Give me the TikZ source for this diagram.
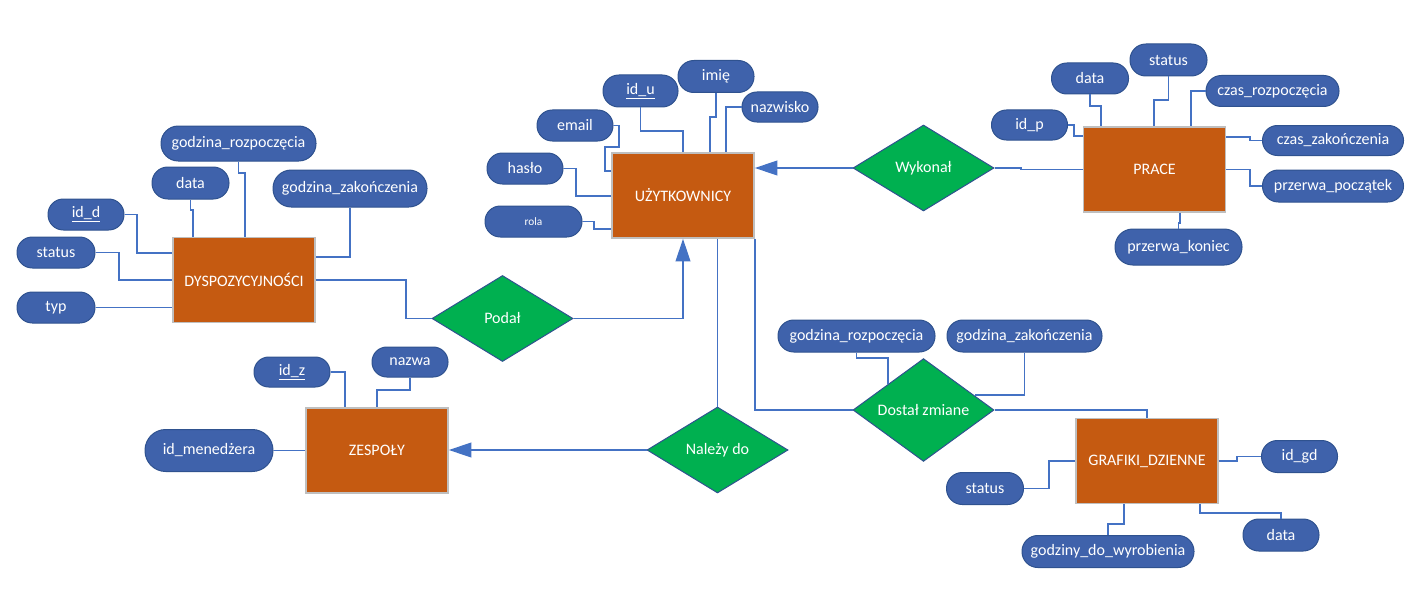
\documentclass[tikz,border=0pt]{standalone}
\usepackage{fontspec}
\setmainfont{Carlito}
\usetikzlibrary{shapes.geometric,arrows.meta}
\definecolor{encjakolor}{HTML}{C55A11}
\definecolor{ramka}{HTML}{BFBFBF}
\definecolor{atrkolor}{HTML}{3F62AB}
\definecolor{atrramka}{HTML}{2F528F}
\definecolor{relkolor}{HTML}{00B050}
\definecolor{liniakolor}{HTML}{4472C4}
\begin{document}
\begin{tikzpicture}[x=0.75pt,y=-0.75pt,
    every node/.style={text=white,font=\fontsize{12}{14}\selectfont},
    wh/.style 2 args={minimum width=#1*0.75pt,minimum height=#2*0.75pt,rounded corners=#2*0.37pt},
    encja/.style={draw=ramka,fill=encjakolor,line width=1.1pt,minimum width=106.5pt,minimum height=63.75pt},
    atrybut/.style={draw=atrramka,fill=atrkolor,line width=0.75pt,inner sep=1pt},
    relacja/.style={diamond,draw=atrramka,fill=relkolor,line width=0.75pt,inner sep=0pt,minimum width=105.75pt,minimum height=64.5pt},
    lacznik/.style={draw=liniakolor,line width=1.4pt},
    strzalka/.style={lacznik,-{Triangle[length=17pt,width=11pt]}}]
    \useasboundingbox (0,0) rectangle (1421,592);
    \node[encja] (dysp) at (244,280) {DYSPOZYCYJNOŚCI};
    \node[encja] (uzyt) at (683,195.5) {UŻYTKOWNICY};
    \node[encja] (prace) at (1154.5,169.5) {PRACE};
    \node[encja] (zesp) at (377,450.5) {ZESPOŁY};
    \node[encja] (graf) at (1147,461) {GRAFIKI\_DZIENNE};
    \node[relacja] (podal) at (502.5,318.5) {Podał};
    \node[relacja] (wyk) at (923.5,168) {Wykonał};
    \node[relacja] (nal) at (717.5,450) {Należy do};
    \node[relacja] (dost) at (923.5,410) {Dostał zmiane};
    \node[atrybut,wh={155}{35}] (dgr) at (238.5,143.5) {godzina\_rozpoczęcia};
    \node[atrybut,wh={77}{32}] (ddata) at (190.5,183) {data};
    \node[atrybut,wh={154}{37}] (dgz) at (350,188.5) {godzina\_zakończenia};
    \node[atrybut,wh={76}{31}] (did) at (86,214.5) {\underline{id\_d}};
    \node[atrybut,wh={78}{31}] (dstatus) at (56,252.5) {status};
    \node[atrybut,wh={78}{31}] (dtyp) at (56,307.5) {typ};
    \node[atrybut,wh={75}{32}] (uid) at (640.5,91) {\underline{id\_u}};
    \node[atrybut,wh={76}{32}] (uimie) at (716,76.5) {imię};
    \node[atrybut,wh={76}{30}] (unazw) at (780,107) {nazwisko};
    \node[atrybut,wh={76}{31}] (uemail) at (575,125.5) {email};
    \node[atrybut,wh={76}{31}] (uhaslo) at (525,168.5) {hasło};
    \node[atrybut,wh={97}{31},font=\fontsize{8.5}{10}\selectfont] (urola) at (533.5,221.5) {rola};
    \node[atrybut,wh={76}{30}] (pid) at (1029.5,125) {id\_p};
    \node[atrybut,wh={77}{31}] (pdata) at (1090,78.5) {data};
    \node[atrybut,wh={77}{32}] (pstatus) at (1168.5,60) {status};
    \node[atrybut,wh={133}{31}] (pczr) at (1272.5,91) {czas\_rozpoczęcia};
    \node[atrybut,wh={141}{30}] (pczz) at (1333,140.5) {czas\_zakończenia};
    \node[atrybut,wh={141}{32}] (pprp) at (1333,186) {przerwa\_początek};
    \node[atrybut,wh={127}{36}] (pprk) at (1178.5,247) {przerwa\_koniec};
    \node[atrybut,wh={76}{30}] (zid) at (292,372) {\underline{id\_z}};
    \node[atrybut,wh={76}{30}] (znazwa) at (410,362) {nazwa};
    \node[atrybut,wh={128}{42}] (zidm) at (209,450.5) {id\_menedżera};
    \node[atrybut,wh={157}{32}] (sgr) at (856.5,336) {godzina\_rozpoczęcia};
    \node[atrybut,wh={155}{32}] (sgz) at (1024.5,336) {godzina\_zakończenia};
    \node[atrybut,wh={76}{32}] (gid) at (1299.5,456.5) {id\_gd};
    \node[atrybut,wh={77}{32}] (gstatus) at (985,488.5) {status};
    \node[atrybut,wh={76}{32}] (gdata) at (1281,535) {data};
    \node[atrybut,wh={172}{32}] (ggodz) at (1108,551.5) {godziny\_do\_wyrobienia};
    \draw[lacznik] (did.east) -| (137,253) -- (dysp.west |- 0,253);
    \draw[lacznik] (dstatus.east) -| (119,280) -- (dysp.west);
    \draw[lacznik] (dtyp.east) -- (dysp.west |- dtyp.east);
    \draw[lacznik] (ddata.south) |- (193,210) -- (dysp.north -| 193,0);
    \draw[lacznik] (dgr.south) |- (245,173) -- (dysp.north -| 245,0);
    \draw[lacznik] (dgz.south) |- (dysp.east |- 0,257);
    \draw[lacznik] (dysp.east) -| (406,318.5) -- (podal.west);
    \draw[strzalka] (podal.east) -| (uzyt.south);
    \draw[lacznik] (uid.south) |- (683,131) -- (uzyt.north);
    \draw[lacznik] (uimie.south) |- (710,117) -- (uzyt.north -| 710,0);
    \draw[lacznik] (unazw.west) -| (uzyt.north -| 726,0);
    \draw[lacznik] (uemail.east) -| (619,147) -| (605,171) -- (uzyt.west |- 0,171);
    \draw[lacznik] (uhaslo.east) -| (576,196) -- (uzyt.west |- 0,196);
    \draw[lacznik] (urola.east) -| (594,229) -- (uzyt.west |- 0,229);
    \draw[lacznik] (nal.north) -- (uzyt.south -| nal.north);
    \draw[lacznik] (uzyt.south east) |- (dost.west);
    \draw[strzalka] (wyk.west) -- (uzyt.east |- wyk.west);
    \draw[strzalka] (nal.west) -- (zesp.east |- nal.west);
    \draw[lacznik] (wyk.east) -- (1021,168) |- (prace.west);
    \draw[lacznik] (pid.east) -| (1074,136) -- (prace.west |- 0,136);
    \draw[lacznik] (pdata.south) |- (1101,106) -- (prace.north -| 1101,0);
    \draw[lacznik] (pstatus.south) |- (1154,100) -- (prace.north -| 1154,0);
    \draw[lacznik] (pczr.west) -| (prace.north -| 1191,0);
    \draw[lacznik] (prace.east |- 0,137) -- (1250,137) |- (pczz.west);
    \draw[lacznik] (prace.east) -| (1250,186) -- (pprp.west);
    \draw[lacznik] (prace.south -| 1180,0) -- (1180,223) -| (pprk.north);
    \draw[lacznik] (zid.east) -| (zesp.north -| 345,0);
    \draw[lacznik] (znazwa.south) |- (377,390) -- (zesp.north);
    \draw[lacznik] (zidm.east) -- (zesp.west |- zidm.east);
    \draw[lacznik] (sgr.south) -- (856.5,358) -| (dost.north west);
    \draw[lacznik] (sgz.south) |- (dost.16);
    \draw[lacznik] (dost.east) -| (graf.north);
    \draw[lacznik] (graf.east) -- (1237,461) |- (gid.west);
    \draw[lacznik] (gstatus.east) -| (1049,461) -- (graf.west);
    \draw[lacznik] (graf.south -| 1124,0) -- (1124,524) -| (ggodz.north);
    \draw[lacznik] (graf.south -| 1200,0) -- (1200,513) -| (gdata.north);
\end{tikzpicture}
\end{document}
